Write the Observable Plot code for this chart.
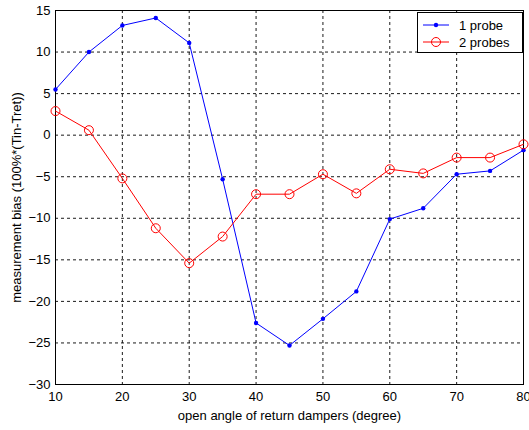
<!DOCTYPE html>
<html>
<head>
<meta charset="utf-8">
<script src="https://cdn.jsdelivr.net/npm/d3@7"></script>
<script src="https://cdn.jsdelivr.net/npm/@observablehq/plot@0.6"></script>
<style>
  html, body { margin: 0; padding: 0; background: #fff; }
  #wrap { position: relative; width: 529px; height: 430px; font-family: "Liberation Sans", Arial, sans-serif; }
  #legend { position: absolute; left: 417px; top: 12px; width: 106px; height: 41px; background: #fff; border: 1px solid #000; box-sizing: border-box; font-size: 13px; }
  .row { position: absolute; left: 0; height: 16px; display: flex; align-items: center; }
  .row svg { margin-left: 5px; margin-right: 10px; }
</style>
</head>
<body>
<div id="wrap"></div>
<script>
const angles = [10, 15, 20, 25, 30, 35, 40, 45, 50, 55, 60, 65, 70, 75, 80];
const probe1 = [5.5, 10.0, 13.2, 14.1, 11.1, -5.3, -22.6, -25.3, -22.1, -18.8, -10.1, -8.8, -4.7, -4.3, -1.8];
const probe2 = [2.9, 0.6, -5.2, -11.2, -15.4, -12.2, -7.1, -7.1, -4.7, -7.0, -4.1, -4.6, -2.7, -2.7, -1.1];
const seriesNames = ["1 probe", "2 probes"];
const seriesColors = ["#0000ff", "#ff0000"];
const xTicks = [10, 20, 30, 40, 50, 60, 70, 80];
const yTicks = [-30, -25, -20, -15, -10, -5, 0, 5, 10, 15];

const d1 = angles.map((a, i) => ({x: a, y: probe1[i]}));
const d2 = angles.map((a, i) => ({x: a, y: probe2[i]}));

const chart = Plot.plot({
  width: 529,
  height: 430,
  marginLeft: 55,
  marginRight: 6,
  marginTop: 10,
  marginBottom: 46,
  style: {fontFamily: '"Liberation Sans", Arial, sans-serif', fontSize: "13px", color: "#000", background: "#fff"},
  x: {domain: [10, 80], ticks: xTicks, tickSize: 0, tickPadding: 8, label: null},
  y: {domain: [-30, 15], ticks: yTicks, tickSize: 0, tickPadding: 5, label: null},
  marks: [
    Plot.gridX(xTicks.slice(1, -1), {stroke: "#000", strokeOpacity: 0.9, strokeDasharray: "3,3"}),
    Plot.gridY(yTicks.slice(1, -1), {stroke: "#000", strokeOpacity: 0.9, strokeDasharray: "3,3"}),
    Plot.frame({stroke: "#000", strokeWidth: 1}),
    Plot.axisX({ticks: xTicks, tickSize: 0, tickPadding: 7, label: "open angle of return dampers (degree)", labelAnchor: "center", labelArrow: "none", labelOffset: 35, fontSize: 13}),
    Plot.axisY({ticks: yTicks, tickSize: 0, tickPadding: 5, label: "measurement bias (100%*(Tin-Tret))", labelAnchor: "center", labelArrow: "none", labelOffset: 44, fontSize: 13}),
    Plot.line(d1, {x: "x", y: "y", stroke: seriesColors[0], strokeWidth: 1}),
    Plot.dot(d1, {x: "x", y: "y", r: 2.2, fill: seriesColors[0], stroke: "none"}),
    Plot.line(d2, {x: "x", y: "y", stroke: seriesColors[1], strokeWidth: 1}),
    Plot.dot(d2, {x: "x", y: "y", r: 4.5, fill: "none", stroke: seriesColors[1], strokeWidth: 1})
  ]
});
const wrap = document.getElementById("wrap");
wrap.appendChild(chart);

const legend = document.createElement("div");
legend.id = "legend";
seriesNames.forEach((name, i) => {
  const row = document.createElement("div");
  row.className = "row";
  row.style.top = (4 + i * 17) + "px";
  const marker = i === 0
    ? `<circle cx="13" cy="8" r="2.2" fill="${seriesColors[i]}"/>`
    : `<circle cx="13" cy="8" r="4.5" fill="none" stroke="${seriesColors[i]}"/>`;
  row.innerHTML = `<svg width="26" height="16"><line x1="0" y1="8" x2="26" y2="8" stroke="${seriesColors[i]}" stroke-width="1"/>${marker}</svg><span>${name}</span>`;
  legend.appendChild(row);
});
wrap.appendChild(legend);
</script>
</body>
</html>
